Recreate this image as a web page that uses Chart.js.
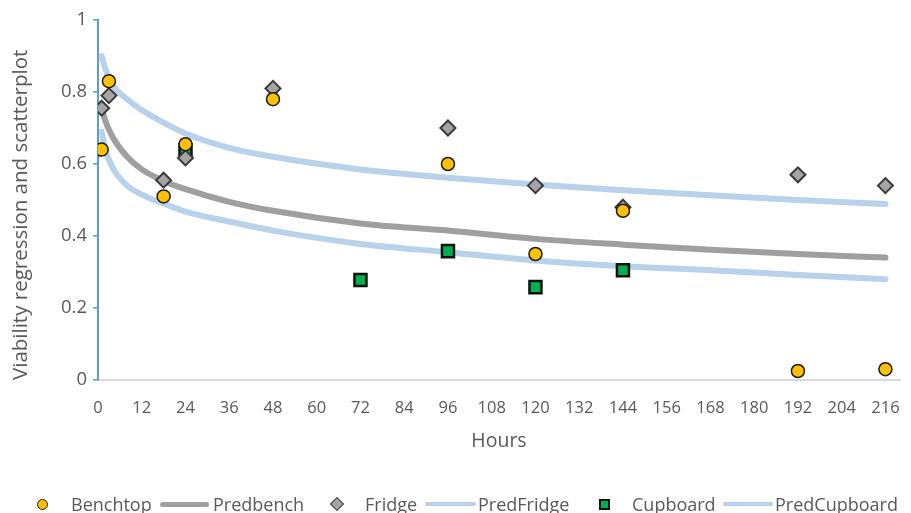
<!DOCTYPE html>
<html>
<head>
<meta charset="utf-8">
<script src="https://cdn.jsdelivr.net/npm/chart.js@4/dist/chart.umd.min.js"></script>
<style>
    html, body { margin: 0; padding: 0; background: #fff; }
    .wrap { position: relative; width: 911px; height: 513px; overflow: hidden; font-family: 'Open Sans', sans-serif; }
    #chart { position: absolute; left: 0; top: 0; }
    .lg { position: absolute; top: 493px; height: 22px; line-height: 22px; font-size: 18px; color: #595959; white-space: nowrap; }
    .lg-mark { position: absolute; box-sizing: border-box; }
</style>
</head>
<body>
<div class="wrap">
    <canvas id="chart" width="911" height="513"></canvas>
    <div id="legend"></div>
</div>
<script>
// ─── Data ─────────────────────────────────────────────

const benchHours = [1, 3, 18, 24, 48, 96, 120, 144, 192, 216];
const benchtop   = [0.64, 0.83, 0.51, 0.655, 0.78, 0.60, 0.35, 0.47, 0.025, 0.03];

const fridgeHours = [1, 3, 18, 24, 48, 96, 120, 144, 192, 216];
const fridge      = [0.755, 0.79, 0.555, 0.617, 0.81, 0.70, 0.54, 0.48, 0.57, 0.54];

const cupboardHours = [24, 72, 96, 120, 144];
const cupboard      = [0.639, 0.278, 0.358, 0.258, 0.305];

const predHours    = [1, 2, 4, 8, 12, 18, 24, 36, 48, 72, 96, 120, 144, 168, 192, 216];
const predBench    = [0.755, 0.72, 0.675, 0.62, 0.585, 0.553, 0.53, 0.495, 0.47, 0.435, 0.415, 0.392, 0.376, 0.362, 0.35, 0.34];
const predFridge   = [0.90, 0.865, 0.82, 0.78, 0.75, 0.715, 0.685, 0.645, 0.62, 0.585, 0.562, 0.543, 0.527, 0.513, 0.5, 0.489];
const predCupboard = [0.69, 0.64, 0.59, 0.54, 0.515, 0.49, 0.468, 0.44, 0.415, 0.378, 0.355, 0.332, 0.316, 0.305, 0.292, 0.28];

const xTickLabels = [0, 12, 24, 36, 48, 60, 72, 84, 96, 108, 120, 132, 144, 156, 168, 180, 192, 204, 216];

// ─── Helpers ──────────────────────────────────────────

const TEXT = '#595959';
const pts = (xs, ys) => xs.map((x, i) => ({ x, y: ys[i] }));

function markerSet(label, xs, ys, style) {
    return { type: 'scatter', label, data: pts(xs, ys), order: 0, showLine: false, ...style };
}

function predSet(label, ys, color) {
    return {
        type: 'line', label, data: pts(predHours, ys), order: 1,
        borderColor: color, borderWidth: 6, pointRadius: 0,
        cubicInterpolationMode: 'monotone', borderCapStyle: 'round', fill: false,
    };
}

// ─── Chart ────────────────────────────────────────────

new Chart(document.getElementById('chart').getContext('2d'), {
    data: {
        datasets: [
            markerSet('Benchtop', benchHours, benchtop, {
                pointStyle: 'circle', pointRadius: 6.5, backgroundColor: '#FFC000',
                borderColor: '#1a1a1a', borderWidth: 1.5,
            }),
            predSet('Predbench', predBench, '#A09E9F'),
            markerSet('Fridge', fridgeHours, fridge, {
                pointStyle: 'rectRot', pointRadius: 7.5, backgroundColor: '#A5A5A5',
                borderColor: '#3a3a3a', borderWidth: 2,
            }),
            predSet('PredFridge', predFridge, '#B8D2EC'),
            markerSet('Cupboard', cupboardHours, cupboard, {
                pointStyle: 'rect', pointRadius: 8.5, backgroundColor: '#00B050',
                borderColor: '#111', borderWidth: 2.5,
            }),
            predSet('PredCupboard', predCupboard, '#B8D2EC'),
        ],
    },
    options: {
        responsive: false,
        animation: false,
        layout: { padding: { top: 20, right: 6, bottom: 0, left: 0 } },
        plugins: { legend: { display: false }, tooltip: { enabled: false } },
        scales: {
            x: {
                type: 'linear', min: 0, max: 220,
                afterFit: s => { s.height = 133; s.paddingRight = 0; },
                afterBuildTicks: s => { s.ticks = xTickLabels.map(value => ({ value })); },
                ticks: { color: TEXT, font: { family: "'Open Sans'", size: 16.5 }, padding: 18, maxRotation: 0, autoSkip: false },
                grid: { display: true, drawOnChartArea: false, drawTicks: false },
                border: { color: '#D9D9D9', width: 2 },
                title: { display: true, text: 'Hours', color: TEXT, font: { family: "'Open Sans'", size: 19.5 }, padding: { top: 0, bottom: 60 } },
            },
            y: {
                min: 0, max: 1,
                afterFit: s => { s.width = 98; },
                ticks: { stepSize: 0.2, color: TEXT, font: { family: "'Open Sans'", size: 18.5 }, padding: 6,
                         callback: v => String(+v.toFixed(1)) },
                grid: { drawOnChartArea: false, color: '#5B9BD5', tickLength: 5, lineWidth: 1.5 },
                border: { color: '#5B9BD5', width: 2 },
                title: { display: true, align: 'start', text: 'Viability regression and scatterplot', color: TEXT, font: { family: "'Open Sans'", size: 20.5 }, padding: { top: 9, bottom: 0 } },
            },
        },
    },
});

// ─── Legend ───────────────────────────────────────────

const legendItems = [
    { text: 'Benchtop',     left: 71,  mark: { x: 37, w: 11, h: 11, css: 'background:#FFC000;border:1.5px solid #1a1a1a;border-radius:50%' } },
    { text: 'Predbench',    left: 213, mark: { x: 160, w: 49, h: 5, css: 'background:#A09E9F;border-radius:3px' } },
    { text: 'Fridge',       left: 365, mark: { x: 332, w: 10, h: 10, css: 'background:#A5A5A5;border:1.5px solid #3a3a3a;transform:rotate(45deg)' } },
    { text: 'PredFridge',   left: 478, mark: { x: 425, w: 51, h: 4, css: 'background:#B8D2EC;border-radius:2px' } },
    { text: 'Cupboard',     left: 632, mark: { x: 599, w: 11, h: 11, css: 'background:#00B050;border:2px solid #111' } },
    { text: 'PredCupboard', left: 775, mark: { x: 723, w: 50, h: 4, css: 'background:#B8D2EC;border-radius:2px' } },
];

document.getElementById('legend').innerHTML = legendItems.map(it => `
    <span class="lg-mark" style="left:${it.mark.x}px;top:${504 - it.mark.h / 2}px;width:${it.mark.w}px;height:${it.mark.h}px;${it.mark.css}"></span>
    <span class="lg" style="left:${it.left}px">${it.text}</span>`).join('');
</script>
</body>
</html>
